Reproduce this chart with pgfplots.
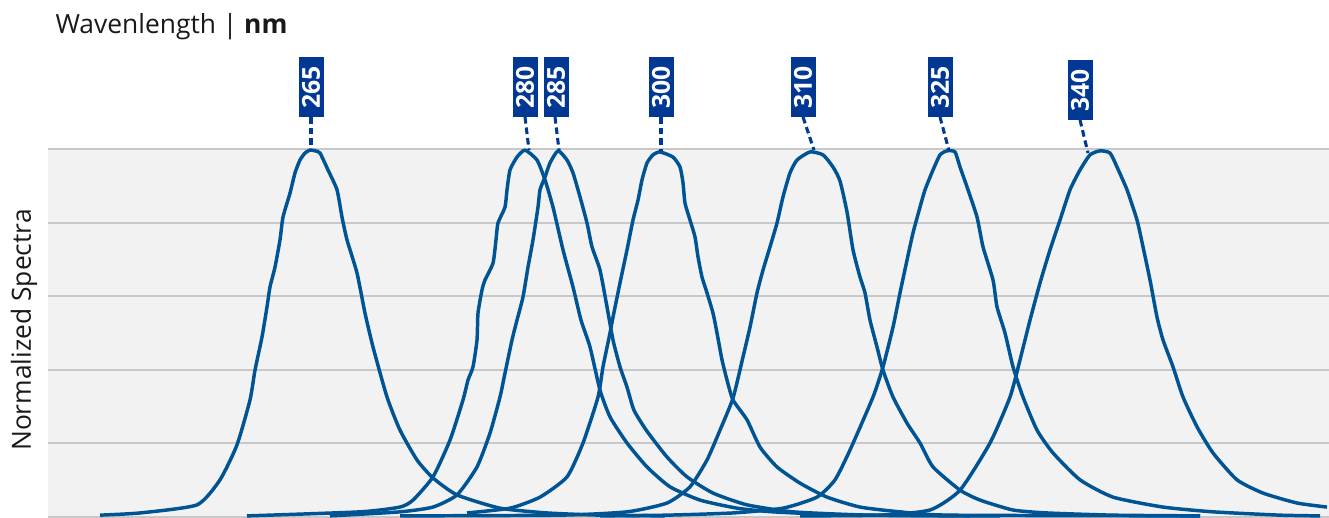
\documentclass[border=0pt]{standalone}
\usepackage{pgfplots}
\pgfplotsset{compat=1.18}
\usepackage{fontspec}
\setmainfont{Open Sans}

\definecolor{curve}{RGB}{0,84,147}
\definecolor{tagblue}{RGB}{0,56,147}
\definecolor{plotbg}{RGB}{242,242,242}
\definecolor{gridc}{RGB}{200,200,200}

\tikzset{
  spec/.style={curve, solid, line width=1.25pt, line join=round, mark=none, smooth, tension=0.35},
  tag/.style={fill=tagblue, text=white, rotate=90, inner sep=0pt,
    minimum width=21.6pt, minimum height=9pt, font=\fontsize{8.9}{10}\selectfont\bfseries},
  lead/.style={tagblue, line width=1.1pt, dash pattern=on 2.4pt off 1.4pt},
}

% x in pixel columns of the original, y normalised 0..1
\begin{document}
\begin{tikzpicture}
\begin{axis}[
  scale only axis, width=461.16pt, height=132.48pt,
  xmin=48, xmax=1329, ymin=0, ymax=1,
  axis line style={draw=none}, clip=false,
  xtick=\empty, ytick={0,0.2,0.4,0.6,0.8,1}, yticklabels={},
  major tick length=0pt,
  ymajorgrids, grid style={gridc, line width=0.75pt},
  axis background/.style={fill=plotbg},
  font=\fontsize{9.5}{11}\selectfont,
]
% 265
\addplot[spec] coordinates {(100,0.005) (140,0.011) (197,0.033) (220,0.101) (237,0.196) (250,0.318) (255,0.399) (262,0.489) (267,0.571) (270,0.625) (275,0.679) (280,0.753) (283,0.815) (290,0.880) (295,0.935) (300,0.970) (305,0.989) (310,0.997) (315,0.995) (320,0.989) (328,0.943) (337,0.889) (342,0.815) (347,0.753) (357,0.663) (365,0.554) (373,0.462) (387,0.326) (400,0.236) (417,0.155) (433,0.106) (457,0.060) (500,0.024) (547,0.011) (600,0.005) (665,0.003)};
% 280
\addplot[spec] coordinates {(247,0.003) (360,0.014) (400,0.027) (413,0.046) (433,0.109) (450,0.209) (463,0.318) (468,0.372) (473,0.408) (477,0.481) (478,0.554) (482,0.617) (485,0.644) (493,0.690) (496,0.753) (498,0.799) (505,0.842) (507,0.889) (510,0.943) (517,0.978) (525,0.997) (537,0.970) (545,0.916) (553,0.842) (563,0.726) (573,0.625) (581,0.535) (590,0.462) (600,0.345) (610,0.272) (627,0.201) (647,0.136) (670,0.082) (700,0.046) (737,0.024) (773,0.014) (850,0.005) (970,0.003)};
% 285
\addplot[spec] coordinates {(330,0.003) (400,0.014) (433,0.027) (457,0.060) (477,0.136) (490,0.228) (500,0.326) (505,0.391) (512,0.481) (517,0.535) (523,0.598) (528,0.679) (533,0.753) (538,0.842) (540,0.889) (545,0.924) (550,0.962) (558,0.995) (567,0.970) (573,0.935) (580,0.870) (587,0.799) (592,0.734) (600,0.671) (607,0.571) (613,0.481) (620,0.408) (627,0.353) (634,0.290) (647,0.233) (667,0.163) (687,0.109) (713,0.065) (747,0.033) (793,0.014) (870,0.005) (1000,0.003)};
% 300
\addplot[spec] coordinates {(467,0.011) (510,0.024) (540,0.054) (567,0.109) (583,0.201) (598,0.326) (603,0.408) (610,0.500) (613,0.543) (620,0.636) (627,0.726) (633,0.807) (638,0.861) (642,0.916) (647,0.962) (653,0.984) (660,0.992) (673,0.978) (680,0.951) (683,0.908) (685,0.853) (690,0.807) (695,0.761) (698,0.707) (702,0.652) (707,0.609) (713,0.554) (717,0.500) (722,0.427) (727,0.372) (733,0.318) (747,0.264) (760,0.190) (777,0.136) (800,0.092) (827,0.054) (860,0.027) (900,0.014) (950,0.005) (1200,0.003)};
% 310
\addplot[spec] coordinates {(400,0.003) (560,0.005) (627,0.014) (667,0.038) (690,0.082) (707,0.155) (720,0.236) (733,0.323) (743,0.435) (750,0.516) (757,0.609) (763,0.671) (770,0.734) (777,0.799) (783,0.870) (790,0.935) (797,0.970) (810,0.992) (823,0.984) (833,0.951) (840,0.913) (847,0.829) (853,0.726) (860,0.652) (865,0.609) (870,0.535) (877,0.462) (883,0.399) (893,0.326) (907,0.255) (920,0.201) (933,0.136) (960,0.073) (980,0.046) (1013,0.019) (1047,0.011) (1113,0.005) (1200,0.003)};
% 325
\addplot[spec] coordinates {(600,0.003) (667,0.005) (733,0.011) (783,0.024) (817,0.054) (835,0.101) (850,0.182) (873,0.326) (883,0.408) (893,0.516) (900,0.609) (907,0.698) (913,0.772) (920,0.842) (925,0.889) (933,0.943) (940,0.984) (947,0.995) (955,0.992) (960,0.951) (967,0.897) (977,0.815) (983,0.734) (993,0.644) (997,0.571) (1005,0.500) (1013,0.408) (1023,0.326) (1037,0.236) (1053,0.174) (1080,0.101) (1113,0.054) (1163,0.027) (1213,0.014) (1280,0.005) (1320,0.003)};
% 340
\addplot[spec] coordinates {(800,0.003) (880,0.005) (930,0.019) (960,0.073) (990,0.201) (1010,0.326) (1020,0.427) (1030,0.535) (1040,0.636) (1050,0.726) (1060,0.807) (1070,0.889) (1080,0.943) (1090,0.984) (1100,0.995) (1110,0.989) (1117,0.951) (1127,0.889) (1137,0.807) (1143,0.734) (1150,0.644) (1157,0.543) (1163,0.481) (1173,0.408) (1183,0.326) (1197,0.245) (1213,0.174) (1237,0.101) (1263,0.065) (1297,0.038) (1327,0.027)};

% wavelength tags and leader lines
\draw[lead] (axis cs:311,1.087) -- (axis cs:311,0.997);
\draw[lead] (axis cs:525,1.087) -- (axis cs:529,0.997);
\draw[lead] (axis cs:555,1.087) -- (axis cs:559,0.997);
\draw[lead] (axis cs:661,1.087) -- (axis cs:661,0.995);
\draw[lead] (axis cs:803,1.087) -- (axis cs:814,0.997);
\draw[lead] (axis cs:940,1.087) -- (axis cs:949,0.995);
\draw[lead] (axis cs:1080,1.079) -- (axis cs:1088,0.989);
\node[tag] at (axis cs:311,1.168) {265};
\node[tag] at (axis cs:525,1.168) {280};
\node[tag] at (axis cs:556,1.168) {285};
\node[tag] at (axis cs:661,1.168) {300};
\node[tag] at (axis cs:803,1.168) {310};
\node[tag] at (axis cs:940,1.168) {325};
\node[tag] at (axis cs:1080,1.160) {340};

\node[anchor=base west, inner sep=0pt, text=black!90] at (axis cs:55,1.315) {Wavenlength | \textbf{nm}};
\node[anchor=base, rotate=90, inner sep=0pt, text=black!90] at (axis cs:31,0.508) {Normalized Spectra};
\end{axis}
\pgfresetboundingbox
\path (-17.28pt,-0.36pt) rectangle (461.16pt,186.12pt);
\end{tikzpicture}
\end{document}
